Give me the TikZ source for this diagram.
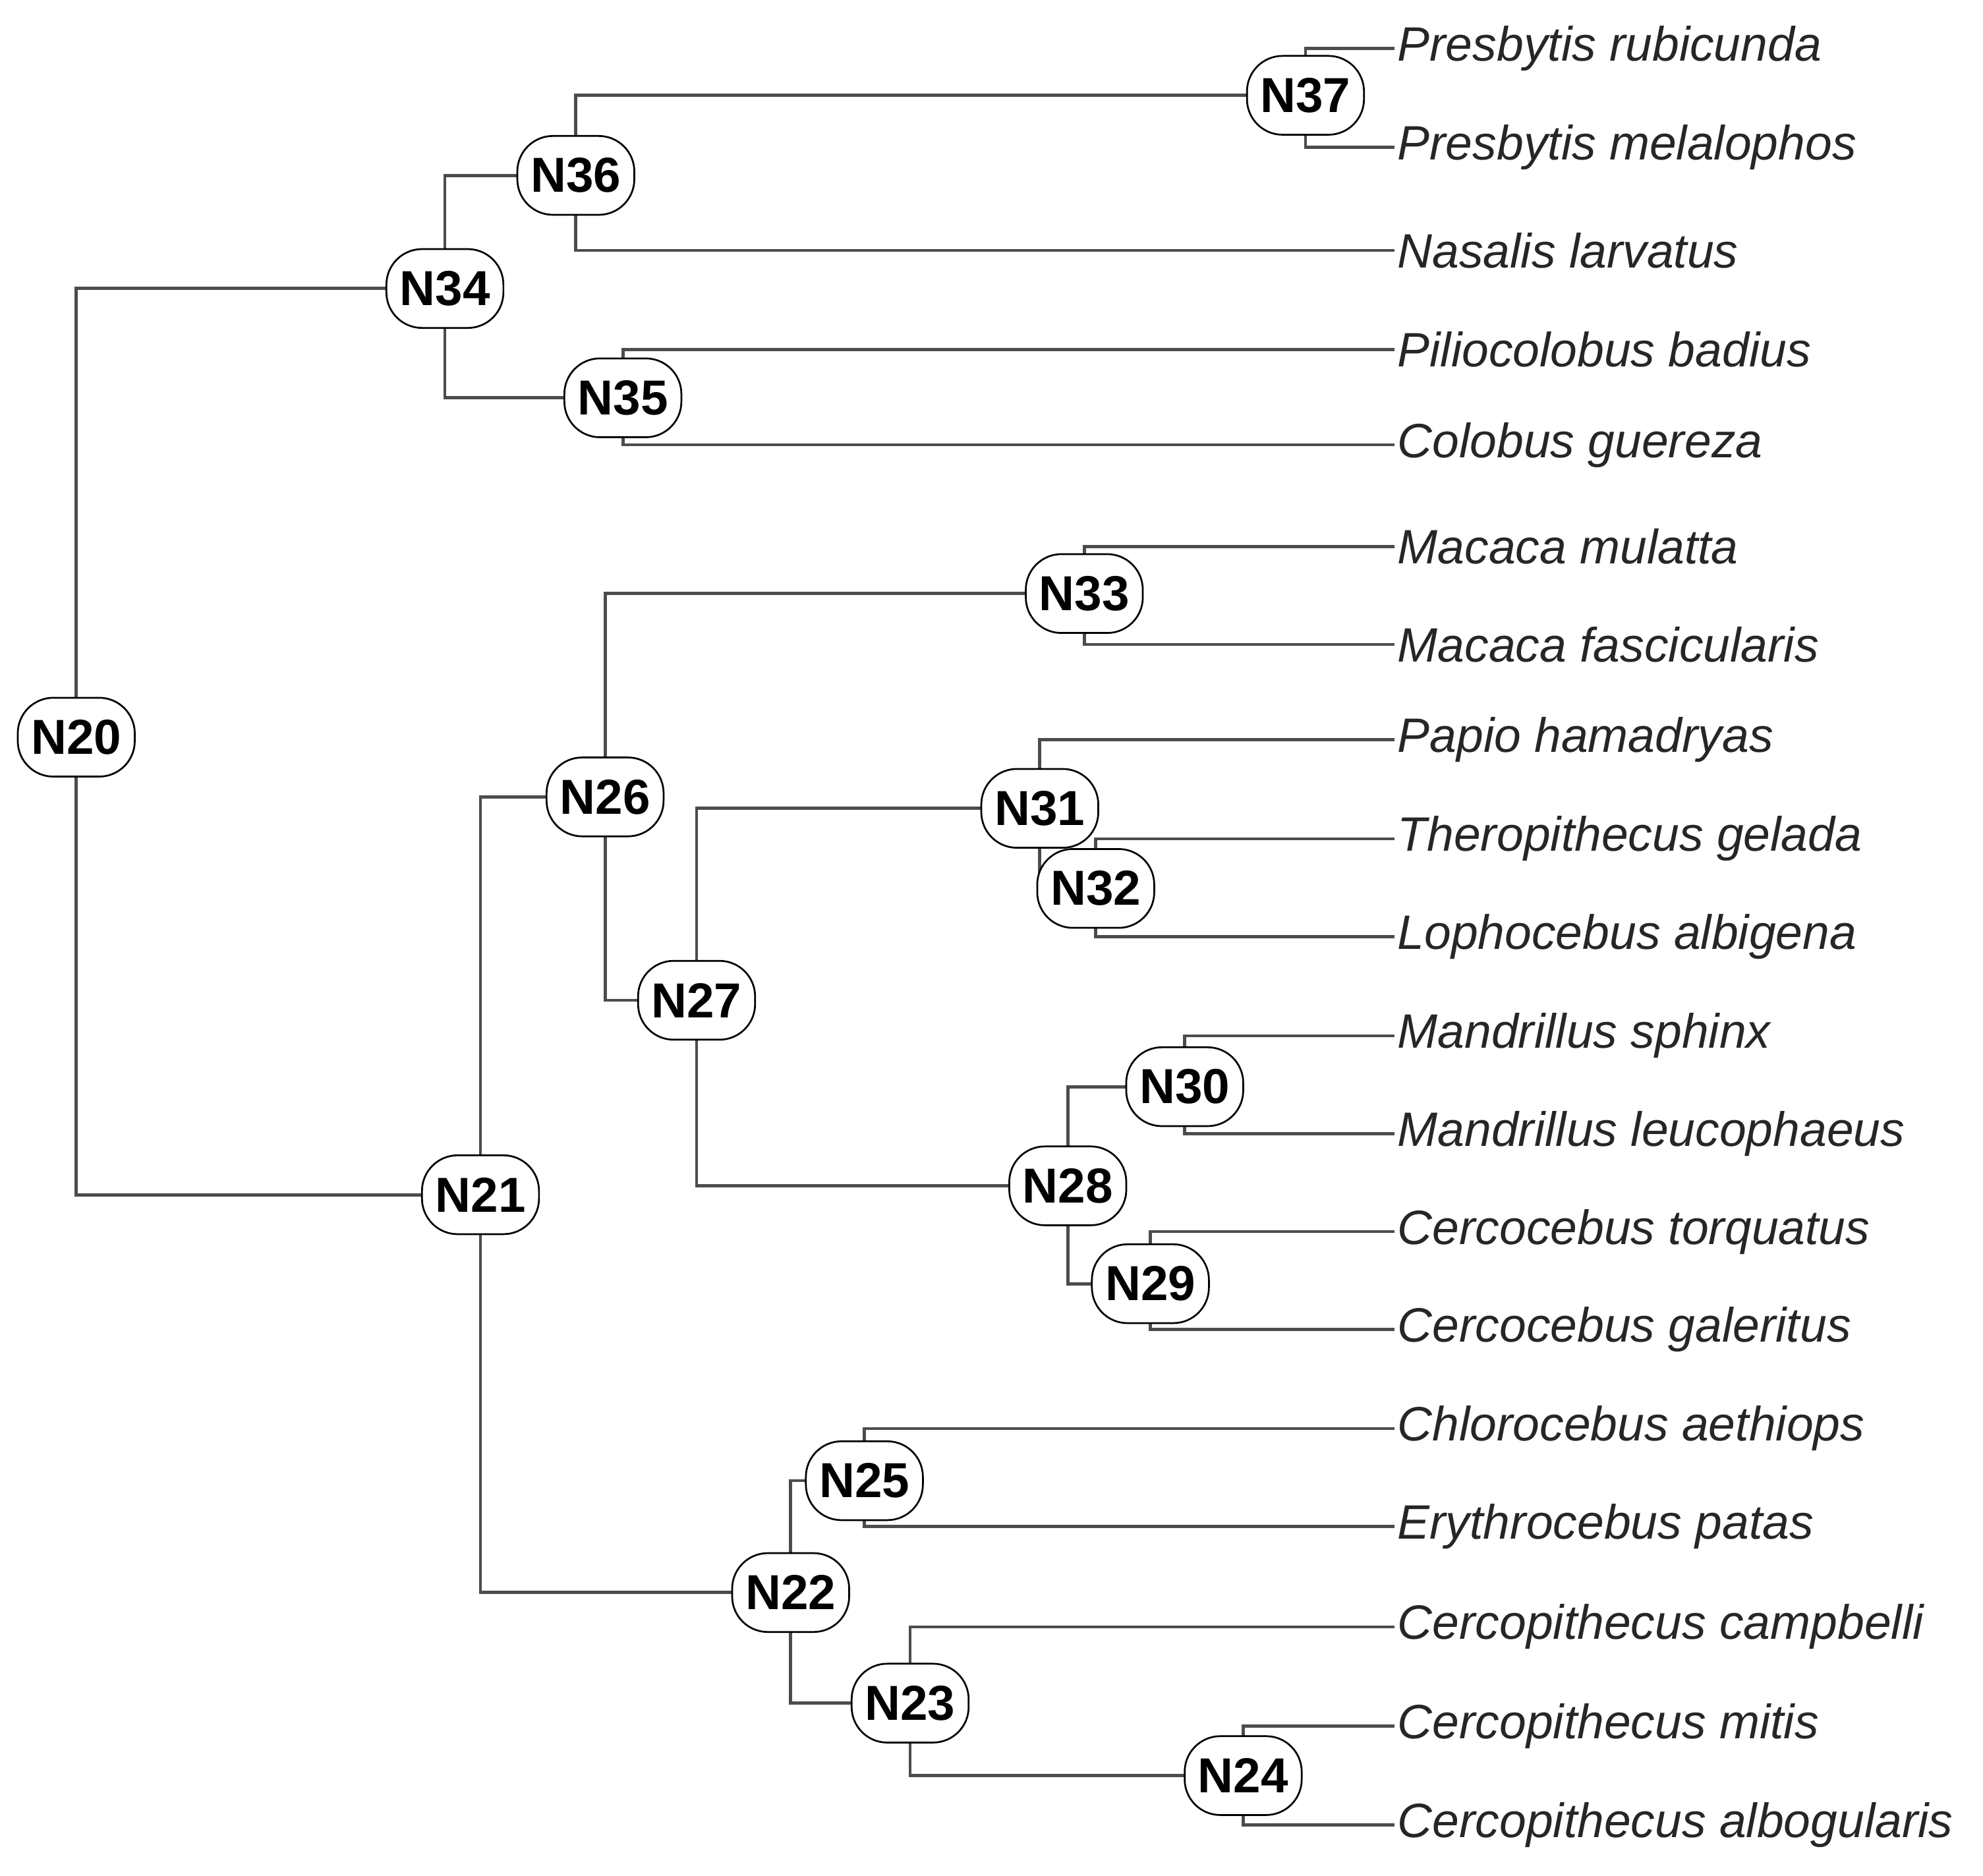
\documentclass[tikz,border=0pt]{standalone}
\usepackage{fontspec}
\setmainfont{Liberation Sans}
\usetikzlibrary{backgrounds}
\tikzset{
  inner/.style={draw=black, fill=white, rounded corners=0.28cm, minimum width=0.92cm, minimum height=0.62cm, inner sep=1pt, font=\fontsize{11}{13}\selectfont\bfseries},
  tip/.style={anchor=west, inner sep=0.5pt, font=\fontsize{10.8}{13}\selectfont\itshape, text=black!85},
  branch/.style={draw=black!70, line width=0.7pt}
}
\begin{document}
\begin{tikzpicture}[x=0.01cm, y=-0.01cm]
  \useasboundingbox (0,0) rectangle (1560,1476);

  % Tips
  \foreach \name/\y/\txt in {t1/38/Presbytis rubicunda, t2/116/Presbytis melalophos, t3/197/Nasalis larvatus,
      t4/275/Piliocolobus badius, t5/350/Colobus guereza, t6/430/Macaca mulatta, t7/507/Macaca fascicularis,
      t8/582/Papio hamadryas, t9/660/Theropithecus gelada, t10/737/Lophocebus albigena,
      t11/815/Mandrillus sphinx, t12/892/Mandrillus leucophaeus, t13/969/Cercocebus torquatus,
      t14/1046/Cercocebus galeritus, t15/1124/Chlorocebus aethiops, t16/1201/Erythrocebus patas,
      t17/1280/Cercopithecus campbelli, t18/1358/Cercopithecus mitis, t19/1436/Cercopithecus albogularis}
    \node (\name) [tip] at (1097,\y) {\txt};

  % Internal nodes
  \node (n20) [inner] at (60,580) {N20};
  \node (n21) [inner] at (378,940) {N21};
  \node (n22) [inner] at (622,1253) {N22};
  \node (n23) [inner] at (716,1340) {N23};
  \node (n24) [inner] at (978,1397) {N24};
  \node (n25) [inner] at (680,1165) {N25};
  \node (n26) [inner] at (476,627) {N26};
  \node (n27) [inner] at (548,787) {N27};
  \node (n28) [inner] at (840,933) {N28};
  \node (n29) [inner] at (905,1010) {N29};
  \node (n30) [inner] at (932,855) {N30};
  \node (n31) [inner] at (818,636) {N31};
  \node (n32) [inner] at (862,699) {N32};
  \node (n33) [inner] at (853,467) {N33};
  \node (n34) [inner] at (350,227) {N34};
  \node (n35) [inner] at (490,313) {N35};
  \node (n36) [inner] at (453,138) {N36};
  \node (n37) [inner] at (1027,75) {N37};

  % Branches
  \begin{scope}[on background layer]
    \foreach \a/\b in {n20/n34, n20/n21, n34/n36, n34/n35, n36/n37, n21/n26, n21/n22,
        n26/n33, n26/n27, n27/n31, n27/n28, n31/n32, n28/n30, n28/n29, n22/n25, n22/n23, n23/n24}
      \draw [branch] (\a.center) |- (\b.center);
    \foreach \a/\b in {n37/t1, n37/t2, n36/t3, n35/t4, n35/t5, n33/t6, n33/t7, n31/t8, n32/t9, n32/t10,
        n30/t11, n30/t12, n29/t13, n29/t14, n25/t15, n25/t16, n23/t17, n24/t18, n24/t19}
      \draw [branch] (\a.center) |- (\b.west);
  \end{scope}
\end{tikzpicture}
\end{document}
